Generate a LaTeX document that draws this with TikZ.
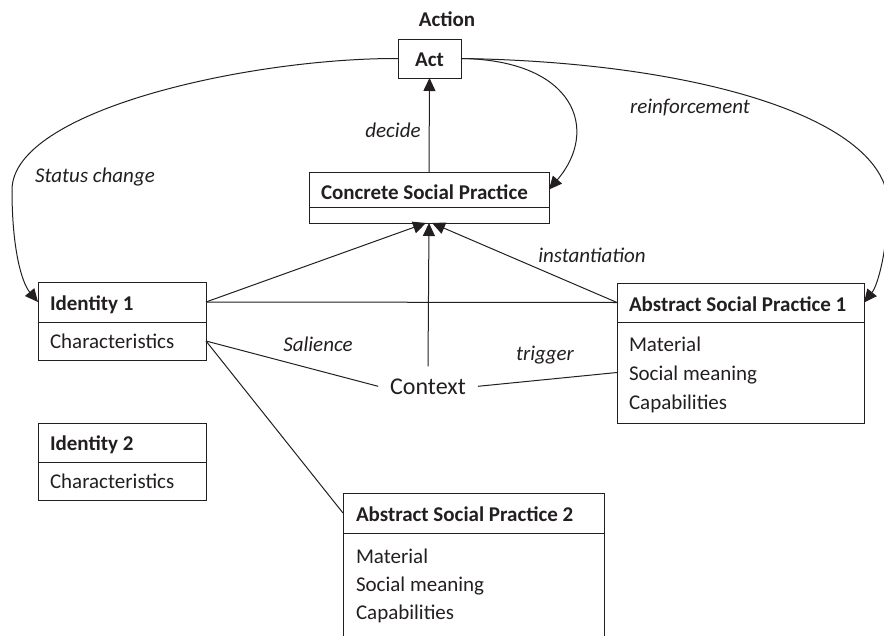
\documentclass[tikz,border=0pt]{standalone}
\usepackage{fontspec}
\setmainfont{Carlito}
\usetikzlibrary{arrows.meta}
\definecolor{ink}{HTML}{231F20}
\begin{document}
\begin{tikzpicture}[x=1pt,y=-1pt]
\tikzset{
  every node/.style={text=ink, font=\fontsize{21}{25}\selectfont, inner sep=0pt, outer sep=0pt},
  frame/.style={draw=ink, line width=1pt, anchor=north west},
  title/.style={font=\fontsize{21}{25}\selectfont\bfseries, anchor=base west},
  entry/.style={anchor=base west},
  tag/.style={font=\fontsize{21}{25}\selectfont\itshape, anchor=base},
  link/.style={draw=ink, line width=1pt},
  tip/.style={-{Triangle[length=13pt,width=12pt]}},
}
\useasboundingbox (0,0) rectangle (884,635);
\clip (0,0) rectangle (884,635);

% Act
\node[frame, minimum width=63pt, minimum height=39pt] (act) at (398,39) {};
\node[title, anchor=base] (actt) at (429.5,66) {Act};
\node[title, anchor=base] (actiont) at (447,26) {Action};

% Concrete social practice
\node[frame, minimum width=240pt, minimum height=35pt] (csph) at (309,172) {};
\node[frame, minimum width=240pt, minimum height=16pt] (cspb) at (309,207) {};
\node[title] (cspt) at (321,199) {Concrete Social Practice};

% Identity 1
\node[frame, minimum width=168pt, minimum height=40pt] (id1h) at (38,282) {};
\node[frame, minimum width=168pt, minimum height=38pt] (id1b) at (38,322) {};
\node[title] (id1t) at (50,310) {Identity 1};
\node[entry] (id1e) at (50,348) {Characteristics};

% Identity 2
\node[frame, minimum width=168pt, minimum height=39pt] (id2h) at (38,423) {};
\node[frame, minimum width=168pt, minimum height=38pt] (id2b) at (38,462) {};
\node[title] (id2t) at (50,450) {Identity 2};
\node[entry] (id2e) at (50,488) {Characteristics};

% Abstract social practice 1
\node[frame, minimum width=247pt, minimum height=39pt] (asp1h) at (617,283) {};
\node[frame, minimum width=247pt, minimum height=101pt] (asp1b) at (617,322) {};
\node[title] (asp1t) at (629,311) {Abstract Social Practice 1};
\node[entry] (asp1m) at (629,351) {Material};
\node[entry] (asp1s) at (629,380) {Social meaning};
\node[entry] (asp1c) at (629,409) {Capabilities};

% Abstract social practice 2 (runs past the lower edge)
\node[frame, minimum width=261pt, minimum height=40pt] (asp2h) at (343,493) {};
\node[frame, minimum width=261pt, minimum height=130pt] (asp2b) at (343,533) {};
\node[title] (asp2t) at (356,521) {Abstract Social Practice 2};
\node[entry] (asp2m) at (356,563) {Material};
\node[entry] (asp2s) at (356,591) {Social meaning};
\node[entry] (asp2c) at (356,619) {Capabilities};

% Context
\node[anchor=base, inner sep=12pt, font=\fontsize{24}{28}\selectfont] (ctx) at (428,394) {Context};

% Straight connectors
\draw[link,tip] (csph.north) -- (act.south);
\draw[link,tip] (id1h.east) -- ([xshift=-3pt]cspb.south);
\draw[link,tip] (asp1h.west) -- ([xshift=3pt]cspb.south);
\draw[link,tip] (ctx.north) -- (cspb.south);
\draw[link] (id1h.east) -- (asp1h.west);
\draw[link] (id1b.east) -- (ctx.west);
\draw[link] (id1b.east) -- (asp2h.west);
\draw[link] (ctx.east) -- (asp1b.west);

% Curved connectors from Act
\draw[link,tip] (act.west) .. controls (250,58) and (12,110) .. (12,190)
  .. controls (12,250) and (22,283) .. (id1h.west);
\draw[link,tip] (act.east) .. controls (575,60) and (600,130) .. (csph.east);
\draw[link,tip] (act.east) .. controls (700,62) and (895,120) .. (888,210)
  .. controls (887,250) and (878,285) .. (asp1h.east);

% Connector labels
\node[tag] (ldecide) at (393,137) {decide};
\node[tag] (lstatus) at (95,182) {Status change};
\node[tag] (lreinf) at (690,113) {reinforcement};
\node[tag] (linst) at (592,262) {instantiation};
\node[tag] (lsal) at (318,351) {Salience};
\node[tag] (ltrig) at (545,360) {trigger};
\end{tikzpicture}
\end{document}
